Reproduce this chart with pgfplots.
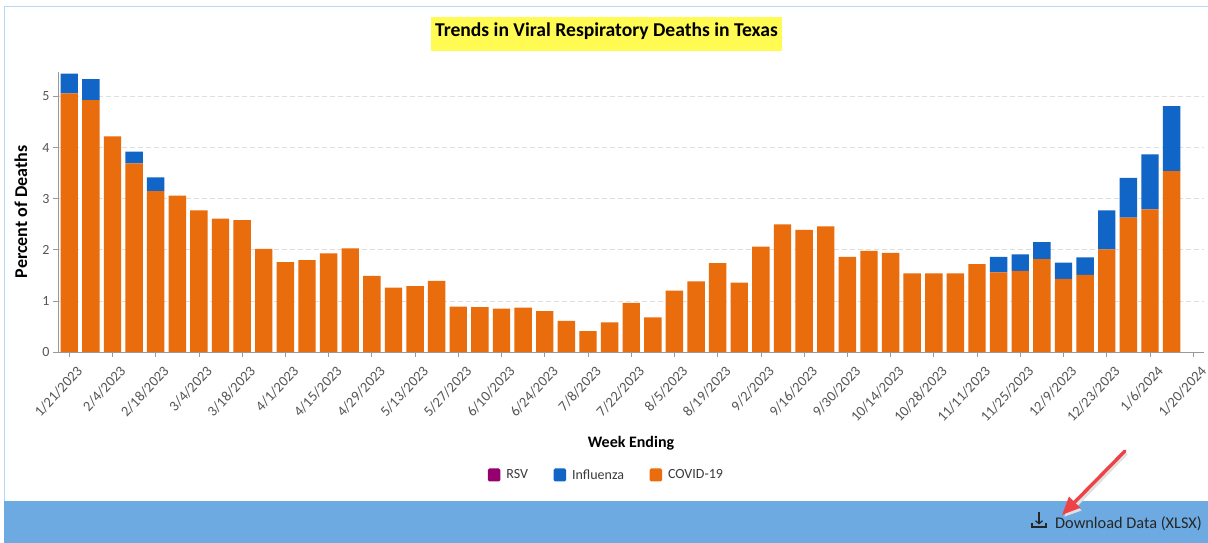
\documentclass[border=0pt]{standalone}
\usepackage{pgfplots}
\usepackage{fontspec}
\pgfplotsset{compat=1.18}
\setmainfont{Carlito}
\usetikzlibrary{arrows.meta}
\definecolor{cvd}{HTML}{E96D0C}
\definecolor{flu}{HTML}{1065C6}
\definecolor{rsv}{HTML}{96006E}
\definecolor{band}{HTML}{6DAAE2}
\definecolor{frame}{HTML}{B8D8F6}
\definecolor{tickc}{HTML}{555555}
\definecolor{ttl}{HTML}{FFFB52}
\definecolor{arr}{HTML}{EE4248}
\pgfplotstableread{
idx rsv flu covid
0 0 0.39 5.06
1 0 0.41 4.93
2 0 0 4.22
3 0 0.23 3.69
4 0 0.27 3.15
5 0 0 3.06
6 0 0 2.77
7 0 0 2.61
8 0 0 2.58
9 0 0 2.02
10 0 0 1.76
11 0 0 1.80
12 0 0 1.93
13 0 0 2.03
14 0 0 1.49
15 0 0 1.26
16 0 0 1.29
17 0 0 1.39
18 0 0 0.89
19 0 0 0.88
20 0 0 0.85
21 0 0 0.87
22 0 0 0.80
23 0 0 0.61
24 0 0 0.41
25 0 0 0.58
26 0 0 0.96
27 0 0 0.68
28 0 0 1.20
29 0 0 1.38
30 0 0 1.74
31 0 0 1.36
32 0 0 2.06
33 0 0 2.50
34 0 0 2.39
35 0 0 2.46
36 0 0 1.86
37 0 0 1.98
38 0 0 1.94
39 0 0 1.54
40 0 0 1.54
41 0 0 1.54
42 0 0 1.72
43 0 0.30 1.56
44 0 0.32 1.59
45 0 0.33 1.82
46 0 0.32 1.43
47 0 0.34 1.51
48 0 0.76 2.01
49 0 0.78 2.63
50 0 1.08 2.79
51 0 1.27 3.54
}\deaths
\begin{document}
\begin{tikzpicture}[x=1pt,y=1pt]
\useasboundingbox (0,0) rectangle (1208,543);
\fill[white] (0,0) rectangle (1208,543);
\draw[frame,line width=1.5pt] (4.5,42) -- (4.5,536.5) -- (1208,536.5);
\fill[band] (4,0) rectangle (1208,42);
\fill[ttl] (431,492) rectangle (782,526);
\node[font=\bfseries\fontsize{19.6}{21}\selectfont,text=black] at (606.5,511.5) {Trends in Viral Respiratory Deaths in Texas};
\begin{axis}[
  at={(58pt,191pt)},anchor=south west,
  scale only axis,width=1146pt,height=280pt,
  ybar stacked,bar width=17.4pt,
  xmin=-0.52,xmax=52.5,ymin=0,ymax=5.48,
  axis x line=bottom,axis y line=left,
  axis line style={-,color=black!40,line width=0.9pt},
  xtick={0,2,...,52},
  xticklabels={1/21/2023,2/4/2023,2/18/2023,3/4/2023,3/18/2023,4/1/2023,4/15/2023,4/29/2023,5/13/2023,5/27/2023,6/10/2023,6/24/2023,7/8/2023,7/22/2023,8/5/2023,8/19/2023,9/2/2023,9/16/2023,9/30/2023,10/14/2023,10/28/2023,11/11/2023,11/25/2023,12/9/2023,12/23/2023,1/6/2024,1/20/2024},
  ytick={0,1,2,3,4,5},
  tick style={color=black!40,line width=0.7pt},
  major tick length=5pt,
  tick align=outside,
  ymajorgrids,
  grid style={dashed,color=black!13,line width=0.7pt,dash pattern=on 5pt off 3pt},
  /pgf/number format/assume math mode=true,
  x tick label style={rotate=47,anchor=north east,font=\fontsize{14.5}{16}\selectfont,text=tickc,xshift=0pt,yshift=-9pt,inner sep=1pt},
  y tick label style={font=\fontsize{14}{16}\selectfont,text=tickc},
  xlabel={\bfseries Week Ending},
  ylabel={\bfseries Percent of Deaths},
  xlabel style={font=\fontsize{16}{18}\selectfont,at={(axis description cs:0.5,0)},anchor=center,yshift=-91pt},
  ylabel style={font=\fontsize{18}{18}\selectfont,at={(axis description cs:0,0.5)},anchor=center,yshift=37pt},
  legend columns=3,
  legend style={draw=none,fill=none,at={(548.5pt,-123pt)},anchor=center,font=\fontsize{14}{16}\selectfont,text=tickc!70!black,/tikz/every even column/.style={column sep=23.5pt}},
  legend image code/.code={\fill[#1,rounded corners=1.5pt] (0pt,-6.5pt) rectangle (12.5pt,6.5pt);\path (16.5pt,0pt);},
]
\addplot[fill=rsv,draw=none] table[x=idx,y=rsv]{\deaths};
\addplot[fill=cvd,draw=none,forget plot] table[x=idx,y=covid]{\deaths};
\addplot[fill=flu,draw=none] table[x=idx,y=flu]{\deaths};
\addlegendentry{RSV}
\addlegendentry{Influenza}
\addlegendimage{fill=cvd,draw=none}
\addlegendentry{COVID-19}
\end{axis}
% download icon and arrow
\draw[black!85,line width=1.2pt] (1032,20) -- (1032,16) -- (1046,16) -- (1046,20);
\draw[black!85,line width=1.2pt,-{Straight Barb[length=3pt,width=7pt]}] (1039,31) -- (1039,18.5);
\node[font=\fontsize{16.3}{18}\selectfont,text=black!85,anchor=west,inner sep=0pt] at (1055,19) {Download Data (XLSX)};
\draw[black!12,line width=4.5pt,-{Triangle[length=17pt,width=15pt]}] (1126,90) -- (1064,26);
\draw[arr,line width=3.4pt,line cap=round,-{Triangle[length=18pt,width=15pt]}] (1125,92) -- (1062,28);
\end{tikzpicture}
\end{document}
